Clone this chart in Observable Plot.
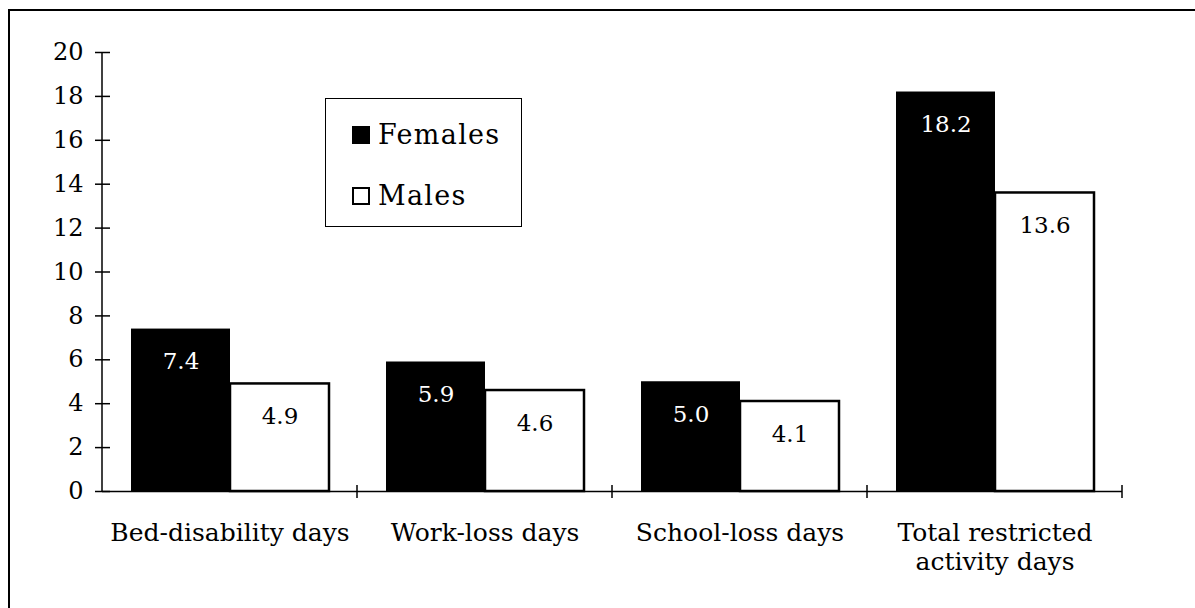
<!DOCTYPE html>
<html>
<head>
<meta charset="utf-8">
<script src="https://cdn.jsdelivr.net/npm/d3@7"></script>
<script src="https://cdn.jsdelivr.net/npm/@observablehq/plot@0.6"></script>
<style>
  html, body { margin: 0; padding: 0; background: #fff; }
  #wrap { position: relative; width: 1195px; height: 608px; overflow: hidden; font-family: "DejaVu Serif", serif; }
  #border { position: absolute; left: 8px; top: 9px; right: -4px; bottom: -4px; border-top: 2px solid #000; border-left: 2px solid #000; pointer-events: none; }
  #legend { position: absolute; left: 325px; top: 98px; width: 195px; height: 127px; border: 1.5px solid #000; background: #fff; }
  .lrow { position: absolute; left: 26px; display: flex; align-items: flex-end; font-size: 27px; letter-spacing: 1.3px; line-height: 1; }
  .lsw { width: 18px; height: 18px; margin-right: 8px; margin-bottom: 4px; box-sizing: border-box; border: 2px solid #000; }
  #chart { position: absolute; left: 0; top: 0; }
</style>
</head>
<body>
<div id="wrap">
  <div id="chart"></div>
  <div id="border"></div>
  <div id="legend"></div>
</div>
<script>
const categories = ["Bed-disability days", "Work-loss days", "School-loss days", "Total restricted\nactivity days"];
const females = [7.4, 5.9, 5.0, 18.2];
const males = [4.9, 4.6, 4.1, 13.6];
const seriesNames = ["Females", "Males"];
const seriesFill = ["#000", "#fff"];
const seriesText = ["#fff", "#000"];
const yTicks = [0, 2, 4, 6, 8, 10, 12, 14, 16, 18, 20];

const femaleRows = categories.map((c, i) => ({category: c, sex: seriesNames[0], value: females[i]}));
const maleRows = categories.map((c, i) => ({category: c, sex: seriesNames[1], value: males[i]}));

const font = "DejaVu Serif";

const chart = Plot.plot({
  width: 1195,
  height: 608,
  marginLeft: 100,
  marginRight: 72,
  marginTop: 52,
  marginBottom: 117,
  style: {fontFamily: font, background: "transparent", color: "#000"},
  fx: {domain: categories, paddingInner: 0, paddingOuter: 0, label: null},
  x: {domain: seriesNames, paddingInner: 0, paddingOuter: 0.28, axis: null},
  y: {domain: [0, 20], label: null},
  marks: [
    Plot.barY(femaleRows, {fx: "category", x: "sex", y: "value", fill: seriesFill[0]}),
    Plot.barY(maleRows, {fx: "category", x: "sex", y: "value", fill: seriesFill[1], stroke: "#000", strokeWidth: 2.5}),
    Plot.ruleY([0], {stroke: "#000", strokeWidth: 1.5}),
    Plot.text(femaleRows, {fx: "category", x: "sex", y: "value", text: d => d.value.toFixed(1),
      fill: seriesText[0], fontSize: 23, dy: 33, fontFamily: font}),
    Plot.text(maleRows, {fx: "category", x: "sex", y: "value", text: d => d.value.toFixed(1),
      fill: seriesText[1], fontSize: 23, dy: 33, fontFamily: font}),
    Plot.axisY({ticks: yTicks, tickSize: 15, dx: 8, tickPadding: 12, fontSize: 24, stroke: "#000", strokeWidth: 1.5, fill: "#000", tickFormat: d => String(d)}),
    Plot.axisFx({anchor: "bottom", tickSize: 0, tickPadding: 29, fontSize: 25, lineHeight: 1.15, fill: "#000", label: null})
  ]
});

document.getElementById("chart").appendChild(chart);

// y axis line and category boundary ticks, positioned from Plot's own scales
const fx = chart.scale("fx");
const y = chart.scale("y");
const svg = d3.select(chart);
const y0 = y.apply(0);
const yTop = y.apply(20);
const xLeft = fx.apply(categories[0]);
svg.append("line").attr("x1", xLeft).attr("x2", xLeft).attr("y1", yTop).attr("y2", y0)
  .attr("stroke", "#000").attr("stroke-width", 1.5);
categories.forEach(c => {
  const xr = fx.apply(c) + fx.bandwidth;
  svg.append("line").attr("x1", xr).attr("x2", xr).attr("y1", y0 - 6).attr("y2", y0 + 7)
    .attr("stroke", "#000").attr("stroke-width", 1.5);
});

// legend
const legend = document.getElementById("legend");
const rowTops = [22, 83];
seriesNames.forEach((name, i) => {
  const r = document.createElement("div");
  r.className = "lrow";
  r.style.top = rowTops[i] + "px";
  const sw = document.createElement("div");
  sw.className = "lsw";
  sw.style.background = seriesFill[i];
  const t = document.createElement("span");
  t.textContent = name;
  r.appendChild(sw);
  r.appendChild(t);
  legend.appendChild(r);
});
</script>
</body>
</html>
